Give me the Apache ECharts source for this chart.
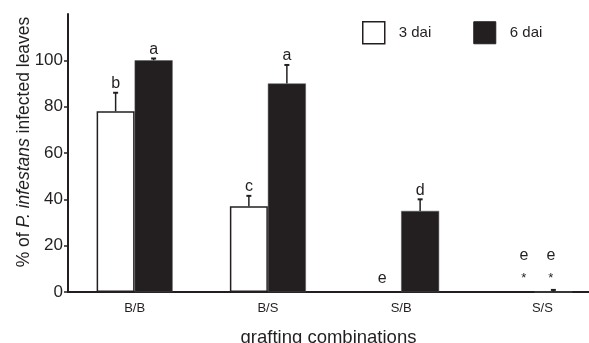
<!DOCTYPE html>
<html>
<head>
<meta charset="utf-8">
<script src="https://cdn.jsdelivr.net/npm/echarts@6/dist/echarts.min.js"></script>
<style>
html,body{margin:0;padding:0;background:#fff;overflow:hidden;}
#chart{width:589px;height:343px;}
</style>
</head>
<body>
<div id="chart"></div>
<script>
// ---- data ----
const categories = ['B/B', 'B/S', 'S/B', 'S/S'];
const seriesNames = ['3 dai', '6 dai'];
const dai3 = [78, 37, 0, 0];
const dai3ErrTop = [86, 41.5, null, null];
const dai6 = [100, 90, 35, 0];
const dai6ErrTop = [100.8, 98, 40, 0.9];
const letters3 = ['b', 'c', 'e', 'e'];
const letters6 = ['a', 'a', 'd', 'e'];
const stars3 = ['', '', '', '*'];
const stars6 = ['', '', '', '*'];
const yTicks = [0, 20, 40, 60, 80, 100];

const INK = '#231f20';
const FONT = 'Liberation Sans, Arial, sans-serif';
const BAR_W = 38;

function makeAnno(values, errTops, letters, stars) {
  return categories.map((c, i) => [i, values[i], errTops[i] == null ? -1 : errTops[i], letters[i], stars[i]]);
}

const anno3 = makeAnno(dai3, dai3ErrTop, letters3, stars3);
const anno6 = makeAnno(dai6, dai6ErrTop, letters6, stars6);

function renderAnno(side) {
  return function (params, api) {
    const idx = api.value(0);
    const val = api.value(1);
    const err = api.value(2);
    const data = side < 0 ? anno3 : anno6;
    const letter = data[params.dataIndex][3];
    const star = data[params.dataIndex][4];
    const base = api.coord([idx, val]);
    const zero = api.coord([idx, 0]);
    const x = base[0] + side * BAR_W / 2;
    const children = [];
    let topY = base[1];
    if (err >= 0) {
      const e = api.coord([idx, err]);
      topY = e[1];
      children.push({type: 'line', shape: {x1: x, y1: base[1], x2: x, y2: e[1]}, style: {stroke: INK, lineWidth: 1.5}});
      children.push({type: 'line', shape: {x1: x - 2.5, y1: e[1], x2: x + 2.5, y2: e[1]}, style: {stroke: INK, lineWidth: 2}});
    }
    if (star) {
      // S/S annotation sits slightly off the bar centres
      const lx = x + (side < 0 ? 8.5 : -2.5);
      children.push({type: 'text', style: {text: star, x: lx, y: zero[1] - 14, align: 'center', verticalAlign: 'middle', font: '13px ' + FONT, fill: INK}});
      children.push({type: 'text', style: {text: letter, x: lx, y: zero[1] - 36, align: 'center', verticalAlign: 'middle', font: '16px ' + FONT, fill: INK}});
    } else {
      const gap = (err >= 0) ? 9 : 13;
      children.push({type: 'text', style: {text: letter, x: x, y: topY - gap, align: 'center', verticalAlign: 'middle', font: '16px ' + FONT, fill: INK}});
    }
    return {type: 'group', children: children};
  };
}

const chart = echarts.init(document.getElementById('chart'), null, {renderer: 'canvas'});
chart.setOption({
  animation: false,
  backgroundColor: '#fff',
  textStyle: {fontFamily: FONT, color: INK},
  grid: {left: 68, width: 533, top: 14, bottom: 51, containLabel: false, outerBoundsMode: 'none'},
  legend: {
    left: 362, top: 21, padding: 0,
    itemWidth: 22, itemHeight: 22, itemGap: 42,
    icon: 'rect',
    textStyle: {fontSize: 15, color: INK, fontFamily: FONT, padding: [0, 0, 0, 9]},
    data: [
      {name: seriesNames[0], itemStyle: {color: '#fff', borderColor: INK, borderWidth: 1.5}},
      {name: seriesNames[1], itemStyle: {color: INK, borderColor: INK, borderWidth: 1}}
    ]
  },
  xAxis: {
    type: 'category',
    data: categories,
    name: 'grafting combinations',
    nameLocation: 'middle',
    nameGap: 36,
    nameMoveOverlap: false,
    nameTextStyle: {fontSize: 18.5, color: INK, fontFamily: FONT, padding: [0, 12, 0, 0]},
    axisLine: {lineStyle: {color: INK, width: 2}},
    axisTick: {show: false},
    axisLabel: {
      fontSize: 13, color: INK, margin: 10, fontFamily: FONT,
      formatter: function (v) { return v === 'S/S' ? '{s|' + v + '}' : v; },
      rich: {s: {fontSize: 13, color: INK, fontFamily: FONT, padding: [0, 0, 0, 16]}}
    },
    splitLine: {show: false}
  },
  yAxis: {
    type: 'value',
    min: 0, max: 120, interval: 20,
    name: '{n|% of }{i|P. infestans}{n| infected leaves}',
    nameLocation: 'middle',
    nameGap: 35,
    nameMoveOverlap: false,
    nameTextStyle: {
      padding: [0, 0, 0, 22],
      rich: {
        n: {fontSize: 17.5, color: INK, fontFamily: FONT},
        i: {fontSize: 17.5, color: INK, fontFamily: FONT, fontStyle: 'italic'}
      }
    },
    axisLine: {show: true, lineStyle: {color: INK, width: 2}},
    axisTick: {show: true, length: 4, lineStyle: {color: INK, width: 1.5}, customValues: yTicks},
    axisLabel: {fontSize: 17, color: INK, margin: 5, fontFamily: FONT, customValues: yTicks},
    splitLine: {show: false}
  },
  series: [
    {
      name: seriesNames[0], type: 'bar', data: dai3, barWidth: BAR_W, barGap: '0%',
      itemStyle: {color: '#fff', borderColor: INK, borderWidth: 1.5}
    },
    {
      name: seriesNames[1], type: 'bar', data: dai6, barWidth: BAR_W, barGap: '0%',
      itemStyle: {color: INK, borderColor: '#555', borderWidth: 0.5}
    },
    {type: 'custom', renderItem: renderAnno(-1), data: anno3, clip: false, z: 5, silent: true},
    {type: 'custom', renderItem: renderAnno(1), data: anno6, clip: false, z: 5, silent: true}
  ]
});
</script>
</body>
</html>
